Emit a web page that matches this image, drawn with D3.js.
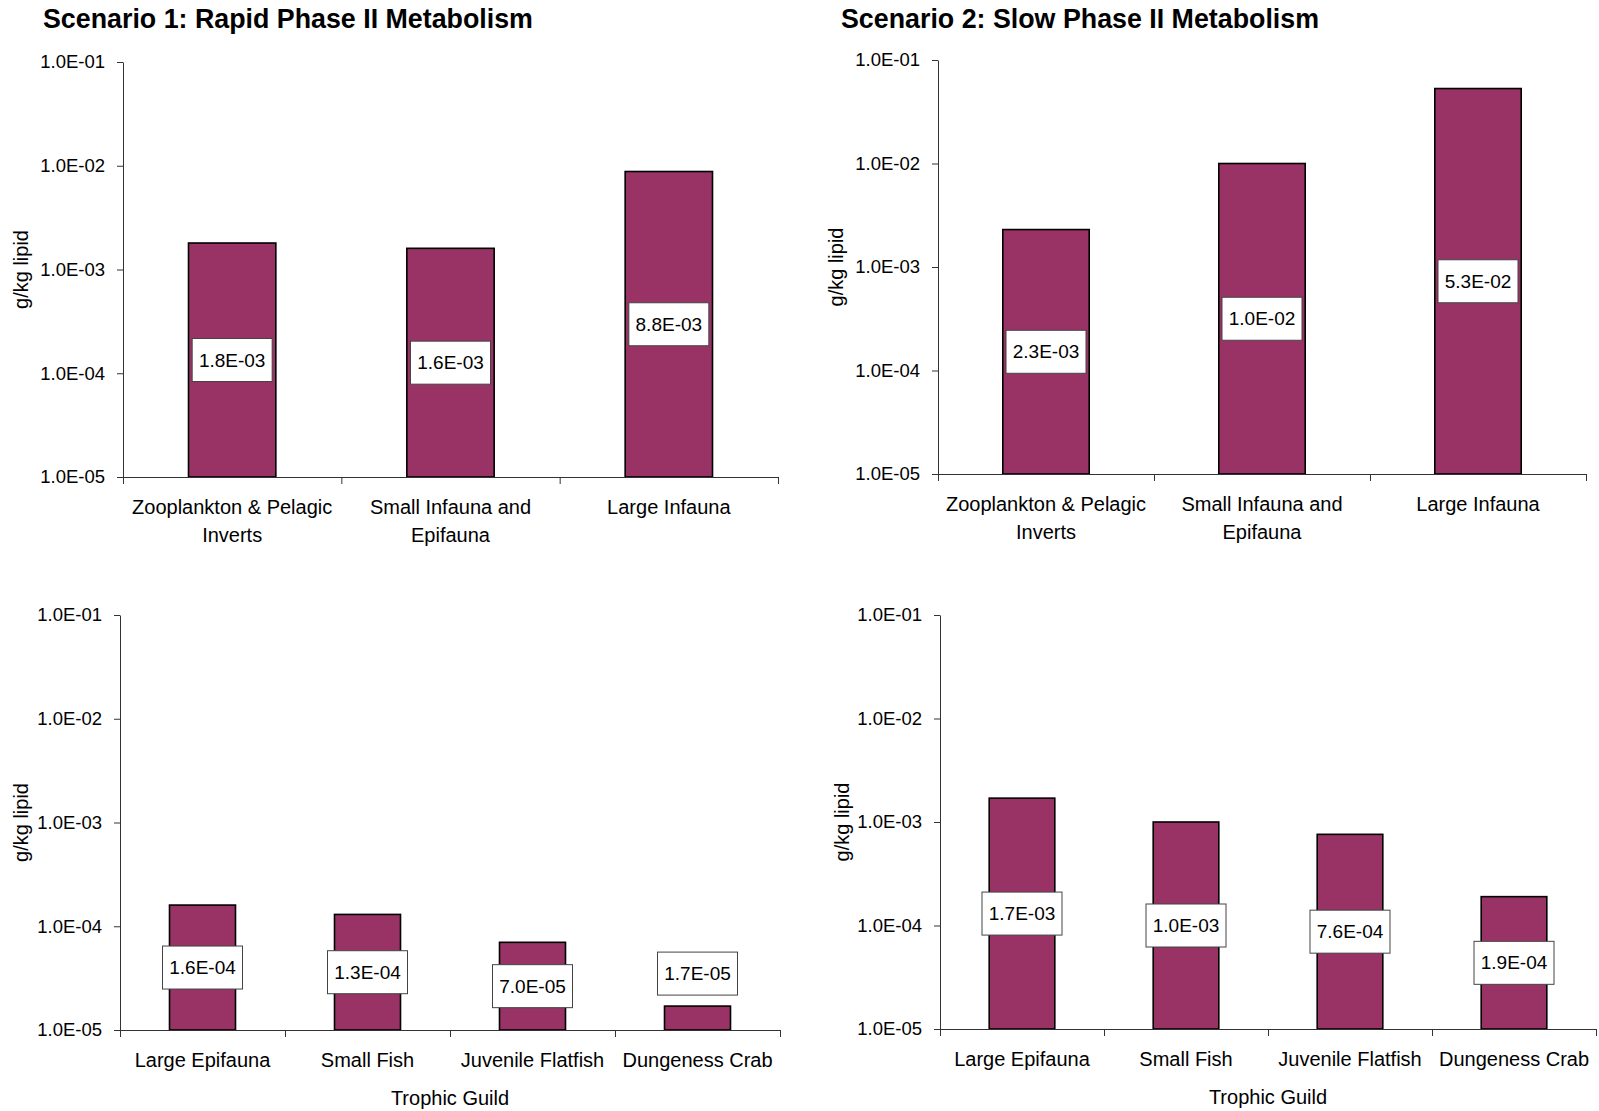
<!DOCTYPE html>
<html>
<head>
<meta charset="utf-8">
<script src="https://cdn.jsdelivr.net/npm/d3@7"></script>
<style>
  html, body { margin: 0; padding: 0; background: #fff; }
  svg { display: block; font-family: "Liberation Sans", Arial, Helvetica, sans-serif; }
</style>
</head>
<body>
<svg id="chart" width="1599" height="1111"></svg>
<script>
// Trophic guilds
const guildsInvert = ["Zooplankton & Pelagic|Inverts", "Small Infauna and|Epifauna", "Large Infauna"];
const guildsUpper = ["Large Epifauna", "Small Fish", "Juvenile Flatfish", "Dungeness Crab"];

// Concentrations, g/kg lipid
const rapidInvert = [1.8e-3, 1.6e-3, 8.8e-3];
const slowInvert = [2.3e-3, 1.0e-2, 5.3e-2];
const rapidUpper = [1.6e-4, 1.3e-4, 7.0e-5, 1.7e-5];
const slowUpper = [1.7e-3, 1.0e-3, 7.6e-4, 1.9e-4];

// Axis
const yTicks = [1e-5, 1e-4, 1e-3, 1e-2, 1e-1];
const yDomain = [1e-5, 1e-1];

const titles = ["Scenario 1: Rapid Phase II Metabolism", "Scenario 2: Slow Phase II Metabolism"];
const yTitle = "g/kg lipid";
const xTitle = "Trophic Guild";

const BAR = "#993366";
const AXIS = "#333";

// 1.8e-3 -> "1.8E-03"
function fmtE(v) {
  const [m, e] = v.toExponential(1).split("e");
  const n = parseInt(e, 10);
  return m + "E" + (n < 0 ? "-" : "+") + String(Math.abs(n)).padStart(2, "0");
}

const svg = d3.select("#chart");

function panel(opt) {
  const { left, right, top, bottom, cats, values, title, titleX, yLabelX, xLabel } = opt;
  const g = svg.append("g");

  const y = d3.scaleLog().domain(yDomain).range([bottom, top]);
  const x = d3.scaleBand().domain(cats).range([left, right]).paddingInner(0).paddingOuter(0);
  const xb = d3.scaleLinear().domain([0, cats.length]).range([left, right]);

  if (title) {
    g.append("text")
      .attr("x", titleX).attr("y", 28)
      .attr("font-size", 26.8).attr("font-weight", "bold").attr("fill", "#000")
      .text(title);
  }

  // y label
  g.append("text")
    .attr("transform", `translate(${yLabelX},${(top + bottom) / 2}) rotate(-90)`)
    .attr("text-anchor", "middle").attr("dominant-baseline", "central")
    .attr("font-size", 20).attr("fill", "#000")
    .text(yTitle);

  // bars
  const bw = x.bandwidth() * 0.4;
  g.selectAll("rect.bar").data(values).join("rect")
    .attr("class", "bar")
    .attr("x", (d, i) => x(cats[i]) + (x.bandwidth() - bw) / 2)
    .attr("y", d => y(d))
    .attr("width", bw)
    .attr("height", d => y(yDomain[0]) - y(d))
    .attr("fill", BAR).attr("stroke", "#000").attr("stroke-width", 1.6);

  // y axis
  const ya = g.append("g").attr("transform", `translate(${left},0)`)
    .call(d3.axisLeft(y).tickValues(yTicks).tickFormat(fmtE).tickSize(6).tickSizeOuter(0).tickPadding(12));
  ya.select(".domain").attr("stroke", AXIS);
  ya.selectAll(".tick line").attr("stroke", AXIS);
  ya.selectAll(".tick text").attr("font-size", 18.5).attr("fill", "#000")
    .attr("font-family", "'Liberation Sans', Arial, sans-serif");

  // x axis with tick marks between categories
  const xa = g.append("g").attr("transform", `translate(0,${bottom})`)
    .call(d3.axisBottom(xb).tickValues(d3.range(cats.length + 1)).tickFormat("").tickSize(7).tickSizeOuter(0));
  xa.select(".domain").attr("stroke", AXIS);
  xa.selectAll(".tick line").attr("stroke", AXIS);

  // category labels
  cats.forEach(c => {
    const lines = c.split("|");
    const t = g.append("text")
      .attr("x", x(c) + x.bandwidth() / 2)
      .attr("y", bottom + 37)
      .attr("text-anchor", "middle").attr("font-size", 20).attr("fill", "#000");
    lines.forEach((ln, k) => {
      t.append("tspan").attr("x", x(c) + x.bandwidth() / 2).attr("dy", k === 0 ? 0 : 28).text(ln);
    });
  });

  if (xLabel) {
    g.append("text")
      .attr("x", (left + right) / 2).attr("y", bottom + 75)
      .attr("text-anchor", "middle").attr("font-size", 20).attr("fill", "#000")
      .text(xLabel);
  }

  // value labels in boxes, centred on the bar, or above it when the bar is too short
  const boxW = 80, boxH = 43;
  values.forEach((v, i) => {
    const cx = x(cats[i]) + x.bandwidth() / 2;
    const yTop = y(v), yBot = y(yDomain[0]);
    let cy = (yTop + yBot) / 2;
    if (yBot - yTop < boxH) cy = yTop - 11 - boxH / 2;
    g.append("rect")
      .attr("x", cx - boxW / 2).attr("y", cy - boxH / 2)
      .attr("width", boxW).attr("height", boxH)
      .attr("fill", "#fff").attr("stroke", "#444").attr("stroke-width", 1);
    g.append("text")
      .attr("x", cx).attr("y", cy)
      .attr("text-anchor", "middle").attr("dominant-baseline", "central")
      .attr("font-size", 19).attr("fill", "#000")
      .text(fmtE(v));
  });
}

panel({ left: 123, right: 778, top: 62, bottom: 477, cats: guildsInvert, values: rapidInvert,
        title: titles[0], titleX: 43, yLabelX: 21 });
panel({ left: 938, right: 1586, top: 60, bottom: 474, cats: guildsInvert, values: slowInvert,
        title: titles[1], titleX: 841, yLabelX: 836 });
panel({ left: 120, right: 780, top: 615, bottom: 1030, cats: guildsUpper, values: rapidUpper,
        yLabelX: 21, xLabel: xTitle });
panel({ left: 940, right: 1596, top: 615, bottom: 1029, cats: guildsUpper, values: slowUpper,
        yLabelX: 842, xLabel: xTitle });
</script>
</body>
</html>
